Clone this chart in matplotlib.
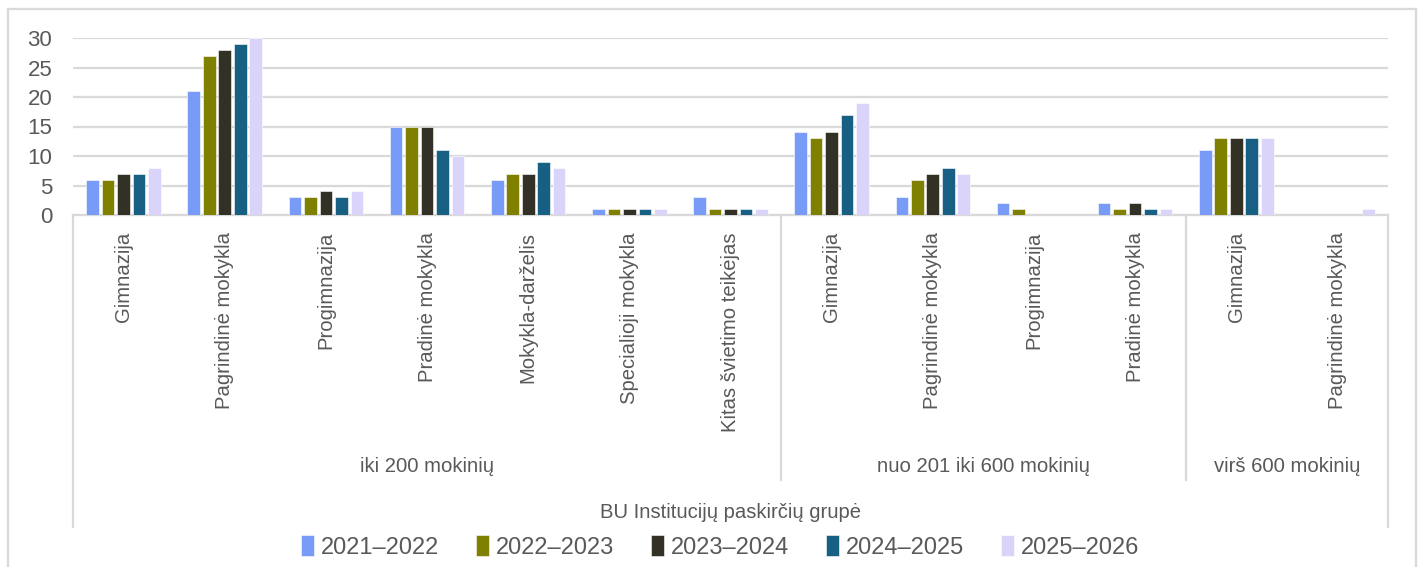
import numpy as np
import matplotlib.pyplot as plt
import matplotlib.transforms as mtrans
from matplotlib.lines import Line2D

plt.rcParams['font.family'] = ['Liberation Sans', 'DejaVu Sans']

# duomenys
kategorijos = ['Gimnazija', 'Pagrindinė mokykla', 'Progimnazija', 'Pradinė mokykla',
               'Mokykla-darželis', 'Specialioji mokykla', 'Kitas švietimo teikėjas',
               'Gimnazija', 'Pagrindinė mokykla', 'Progimnazija', 'Pradinė mokykla',
               'Gimnazija', 'Pagrindinė mokykla']
grupes = ['iki 200 mokinių', 'nuo 201 iki 600 mokinių', 'virš 600 mokinių']
grupiu_dydziai = [7, 4, 2]
metai = ['2021–2022', '2022–2023', '2023–2024', '2024–2025', '2025–2026']

v_2021 = [6, 21, 3, 15, 6, 1, 3, 14, 3, 2, 2, 11, 0]
v_2022 = [6, 27, 3, 15, 7, 1, 1, 13, 6, 1, 1, 13, 0]
v_2023 = [7, 28, 4, 15, 7, 1, 1, 14, 7, 0, 2, 13, 0]
v_2024 = [7, 29, 3, 11, 9, 1, 1, 17, 8, 0, 1, 13, 0]
v_2025 = [8, 30, 4, 10, 8, 1, 1, 19, 7, 0, 1, 13, 1]
serijos = [v_2021, v_2022, v_2023, v_2024, v_2025]

spalvos = ['#779BF7', '#808000', '#333025', '#176084', '#DAD3FA']
teksto_spalva = '#595959'
linijos_spalva = '#D9D9D9'

W, H = 1418, 567
fig = plt.figure(figsize=(W / 100, H / 100), dpi=100)

# pikseliai -> figūros koordinatės
def fx(px):
    return px / W

def fy(py):
    return 1 - py / H

ax_l, ax_r, ax_t, ax_b = 73, 1388, 38, 215
ax = fig.add_axes([fx(ax_l), fy(ax_b), fx(ax_r) - fx(ax_l), fy(ax_t) - fy(ax_b)])

x = np.arange(len(kategorijos))
zingsnis = 0.153
plotis = 0.125
for i, (vals, c) in enumerate(zip(serijos, spalvos)):
    ax.bar(x + (i - 2) * zingsnis, vals, width=plotis, color=c, label=metai[i],
           edgecolor='white', linewidth=0.4, zorder=3)

ax.set_xlim(-0.5, len(kategorijos) - 0.5)
ax.set_ylim(0, 30)
ax.set_yticks(range(0, 31, 5))
ax.yaxis.grid(True, color=linijos_spalva, linewidth=1.6, zorder=0)
ax.set_xticks([])
ax.tick_params(axis='y', length=0, labelsize=16, labelcolor=teksto_spalva, pad=15)
for s in ['top', 'right', 'left']:
    ax.spines[s].set_visible(False)
ax.spines['bottom'].set_color(linijos_spalva)
ax.spines['bottom'].set_linewidth(1.6)

# x - duomenys, y - figūra
tr = mtrans.blended_transform_factory(ax.transData, fig.transFigure)

# kategorijų pavadinimai
for xi, pav in zip(x, kategorijos):
    ax.text(xi, fy(232), pav, transform=tr, rotation=90, ha='center', va='top',
            fontsize=14.6, color=teksto_spalva)

# grupių skiriamosios linijos ir pavadinimai
ribos = np.cumsum([0] + grupiu_dydziai) - 0.5
for k, r in enumerate(ribos):
    apacia = 527 if k in (0, len(ribos) - 1) else 480
    fig.add_artist(Line2D([r, r], [fy(ax_b), fy(apacia)], transform=tr,
                          color=linijos_spalva, linewidth=1.6))
for k, g in enumerate(grupes):
    centras = (ribos[k] + ribos[k + 1]) / 2
    ax.text(centras, fy(466), g, transform=tr, ha='center', va='center',
            fontsize=14.6, color=teksto_spalva)

fig.text(fx(730), fy(512), 'BU Institucijų paskirčių grupė', ha='center', va='center',
         fontsize=14.6, color=teksto_spalva)

# išorinis rėmelis
for xs, ys in [([8, 8], [9, 567]), ([8, 1416], [9, 9]), ([1416, 1416], [9, 567])]:
    fig.add_artist(Line2D([fx(v) for v in xs], [fy(v) for v in ys],
                          transform=fig.transFigure, color=linijos_spalva, linewidth=1.6))

fig.legend(loc='center', bbox_to_anchor=(fx(720), fy(547)), ncol=5, frameon=False,
           fontsize=17, labelcolor=teksto_spalva, handlelength=0.55, handleheight=1.0,
           handletextpad=0.3, columnspacing=1.55)

fig.savefig('out.png', dpi=100)
